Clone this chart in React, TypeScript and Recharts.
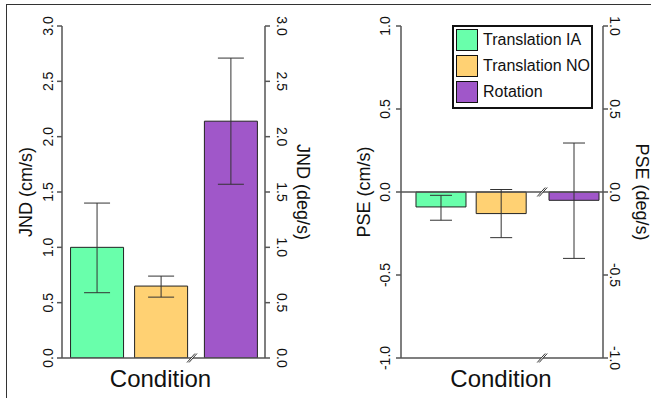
import { BarChart, Bar, XAxis, YAxis, Cell, ErrorBar, ReferenceLine, ReferenceDot } from 'recharts';

const FONT = '"Liberation Sans", Arial, Helvetica, sans-serif';
const AXIS = '#555';
const INK = '#111';

const categories = ['Translation IA', 'Translation NO', 'Rotation'];
const colors = ['#69FFAB', '#FFD173', '#A057C9'];

// JND panel (cm/s on left axis, deg/s on right axis)
const jndMean = [1.0, 0.65, 2.14];
const jndLow = [0.59, 0.55, 1.57];
const jndHigh = [1.4, 0.74, 2.71];
const jndTicks = [0, 0.5, 1, 1.5, 2, 2.5, 3];

// PSE panel
const pseMean = [-0.09, -0.13, -0.05];
const pseLow = [-0.17, -0.275, -0.4];
const pseHigh = [-0.02, 0.015, 0.295];
const pseTicks = [-1, -0.5, 0, 0.5, 1];

// slot of each bar along x; rotation sits past an axis break
const jndSlots = [1, 2, 3.09];
const pseSlots = [1, 2, 3.21];

const buildRows = (mean: number[], low: number[], high: number[], slots: number[]) =>
  categories.map((name, i) => ({
    name,
    pos: slots[i],
    mean: mean[i],
    err: [mean[i] - low[i], high[i] - mean[i]],
  }));

const SideTick = ({ x, y, payload, angle }: any) => (
  <text
    x={x}
    y={y}
    transform={`rotate(${angle}, ${x}, ${y})`}
    textAnchor="middle"
    fontSize={14}
    fill={INK}
    fontFamily={FONT}
  >
    {Number(payload.value).toFixed(1)}
  </text>
);

const axisTitle = (text: string, angle: number, shift: number) => (props: any) => {
  const vb = props.viewBox;
  if (!vb) return null;
  const cx = vb.x + vb.width / 2 + shift;
  const cy = vb.y + vb.height / 2;
  return (
    <text
      x={cx}
      y={cy}
      transform={`rotate(${angle}, ${cx}, ${cy})`}
      textAnchor="middle"
      dominantBaseline="central"
      fontSize={18}
      fill={INK}
      fontFamily={FONT}
    >
      {text}
    </text>
  );
};

const conditionLabel = (shift: number) => (props: any) => {
  const vb = props.viewBox;
  if (!vb) return null;
  return (
    <text x={vb.x + vb.width / 2 + shift} y={vb.y + 29} textAnchor="middle" fontSize={24} fill={INK} fontFamily={FONT}>
      Condition
    </text>
  );
};

const BreakMark = ({ cx, cy }: any) => (
  <g>
    <polygon points={`${cx - 5},${cy + 4.5} ${cx + 3},${cy - 4.5} ${cx + 5},${cy - 4.5} ${cx - 3},${cy + 4.5}`} fill="#fff" />
    <line x1={cx - 5} y1={cy + 4.5} x2={cx + 3} y2={cy - 4.5} stroke="#333" strokeWidth={1} />
    <line x1={cx - 3} y1={cy + 4.5} x2={cx + 5} y2={cy - 4.5} stroke="#333" strokeWidth={1} />
  </g>
);

function Legend() {
  return (
    <div
      style={{
        position: 'absolute',
        left: 452,
        top: 25,
        width: 137,
        height: 80,
        border: '2px solid #111',
        background: '#fff',
      }}
    >
      {categories.map((c, i) => (
        <div key={c} style={{ position: 'absolute', left: 2, top: 2 + i * 26, height: 22, display: 'flex', alignItems: 'center' }}>
          <div style={{ width: 20, height: 20, background: colors[i], border: '1px solid #111' }} />
          <span style={{ marginLeft: 5, fontSize: 16, color: INK, whiteSpace: 'nowrap', fontFamily: FONT }}>{c}</span>
        </div>
      ))}
    </div>
  );
}

export default function App() {
  const jndRows = buildRows(jndMean, jndLow, jndHigh, jndSlots);
  const pseRows = buildRows(pseMean, pseLow, pseHigh, pseSlots);

  return (
    <div style={{ position: 'absolute', left: 0, top: 0, width: 651, height: 398, background: '#fff', overflow: 'hidden' }}>
      <div
        style={{
          position: 'absolute',
          left: 6,
          top: 4,
          right: 0,
          bottom: 0,
          borderTop: '1px solid #333',
          borderLeft: '1px solid #333',
        }}
      />

      <div style={{ position: 'absolute', left: 0, top: 0 }}>
        <BarChart width={330} height={398} data={jndRows} margin={{ top: 26, right: 0, bottom: 0, left: 0 }}>
          <XAxis
            type="number"
            dataKey="pos"
            domain={[0.46, 3.63]}
            allowDataOverflow
            tick={false}
            tickLine={false}
            axisLine={{ stroke: AXIS, strokeWidth: 1.5 }}
            height={40}
            label={conditionLabel(-3)}
          />
          <YAxis
            yAxisId="l"
            domain={[0, 3]}
            ticks={jndTicks}
            interval={0}
            allowDataOverflow
            width={62}
            tickSize={5}
            tickMargin={4}
            tick={<SideTick angle={-90} />}
            axisLine={{ stroke: AXIS, strokeWidth: 1.5 }}
            tickLine={{ stroke: AXIS, strokeWidth: 1.5 }}
            label={axisTitle('JND (cm/s)', -90, -5)}
          />
          <YAxis
            yAxisId="r"
            orientation="right"
            domain={[0, 3]}
            ticks={jndTicks}
            interval={0}
            allowDataOverflow
            width={65}
            tickSize={5}
            tickMargin={7}
            tick={<SideTick angle={90} />}
            axisLine={{ stroke: AXIS, strokeWidth: 1.5 }}
            tickLine={{ stroke: AXIS, strokeWidth: 1.5 }}
            label={axisTitle('JND (deg/s)', 90, 5)}
          />
          <Bar yAxisId="l" dataKey="mean" barSize={53} stroke="#222" strokeWidth={1} isAnimationActive={false}>
            {jndRows.map((r, i) => (
              <Cell key={r.name} fill={colors[i]} />
            ))}
            <ErrorBar dataKey="err" direction="y" width={13} stroke="#333" strokeWidth={1} />
          </Bar>
          <ReferenceDot yAxisId="l" x={2.49} y={0} ifOverflow="visible" shape={BreakMark} />
        </BarChart>
      </div>

      <div style={{ position: 'absolute', left: 330, top: 0 }}>
        <BarChart width={321} height={398} data={pseRows} margin={{ top: 26, right: 0, bottom: 0, left: 0 }}>
          <XAxis
            type="number"
            dataKey="pos"
            domain={[0.334, 3.69]}
            allowDataOverflow
            tick={false}
            tickLine={false}
            axisLine={{ stroke: AXIS, strokeWidth: 1.5 }}
            height={40}
            label={conditionLabel(-1)}
          />
          <YAxis
            yAxisId="l"
            domain={[-1, 1]}
            ticks={pseTicks}
            interval={0}
            allowDataOverflow
            width={71}
            tickSize={5}
            tickMargin={6}
            tick={<SideTick angle={-90} />}
            axisLine={{ stroke: AXIS, strokeWidth: 1.5 }}
            tickLine={{ stroke: AXIS, strokeWidth: 1.5 }}
            label={axisTitle('PSE (cm/s)', -90, -2)}
          />
          <YAxis
            yAxisId="r"
            orientation="right"
            domain={[-1, 1]}
            ticks={pseTicks}
            interval={0}
            allowDataOverflow
            width={48}
            tickSize={5}
            tickMargin={2}
            tick={<SideTick angle={90} />}
            axisLine={{ stroke: AXIS, strokeWidth: 1.5 }}
            tickLine={{ stroke: AXIS, strokeWidth: 1.5 }}
            label={axisTitle('PSE (deg/s)', 90, 15)}
          />
          <ReferenceLine yAxisId="l" y={0} stroke={AXIS} strokeWidth={1.5} />
          <Bar yAxisId="l" dataKey="mean" barSize={50} stroke="#222" strokeWidth={1} isAnimationActive={false}>
            {pseRows.map((r, i) => (
              <Cell key={r.name} fill={colors[i]} />
            ))}
            <ErrorBar dataKey="err" direction="y" width={11} stroke="#333" strokeWidth={1} />
          </Bar>
          <ReferenceDot yAxisId="l" x={2.68} y={0} ifOverflow="visible" shape={BreakMark} />
          <ReferenceDot yAxisId="l" x={2.68} y={-1} ifOverflow="visible" shape={BreakMark} />
        </BarChart>
      </div>

      <Legend />
    </div>
  );
}
